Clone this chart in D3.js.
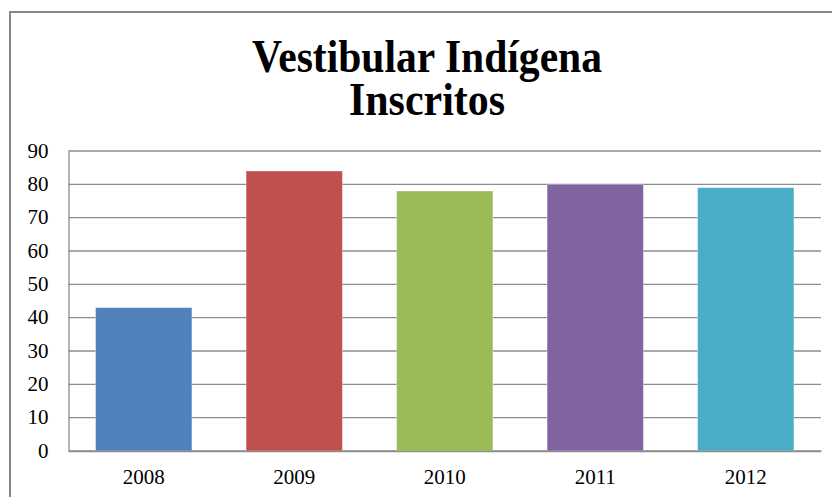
<!DOCTYPE html>
<html>
<head>
<meta charset="utf-8">
<script src="https://cdn.jsdelivr.net/npm/d3@7/dist/d3.min.js"></script>
<style>
  body { margin: 0; background: #fff; }
  svg { display: block; }
</style>
</head>
<body>
<div class="bar-chart"></div>
<script>
var years = ["2008", "2009", "2010", "2011", "2012"]
var inscritos = [43, 84, 78, 80, 79]
var colors = ["#4f81bd", "#c0504d", "#9bbb59", "#8064a2", "#4bacc6"]
var yTicks = [0, 10, 20, 30, 40, 50, 60, 70, 80, 90]
var titleLines = ["Vestibular Indígena", "Inscritos"]

var width = 832, height = 497
var plot = { left: 68.5, right: 821, top: 151, bottom: 451 }

var svg = d3.select(".bar-chart")
            .append("svg")
            .attr("width", width)
            .attr("height", height)
            .style("background-color", "#ffffff")

// chart border
svg.append("rect")
    .attr("x", 10)
    .attr("y", 12)
    .attr("width", width + 20)
    .attr("height", height + 20)
    .attr("fill", "none")
    .attr("stroke", "#868686")
    .attr("stroke-width", 2)

var xScale = d3.scaleBand().domain(years).range([plot.left, plot.right]).paddingInner(0.36).paddingOuter(0.18)
var yScale = d3.scaleLinear().domain([0, 90]).range([plot.bottom, plot.top])

// gridlines
svg.append("g")
    .selectAll("line")
    .data(yTicks)
    .enter()
    .append("line")
    .attr("x1", plot.left)
    .attr("x2", plot.right)
    .attr("y1", d => yScale(d))
    .attr("y2", d => yScale(d))
    .attr("stroke", "#8c8c8c")
    .attr("stroke-width", 1.3)

// y axis
var yAxis = d3.axisLeft(yScale).tickValues(yTicks).tickSize(0).tickPadding(20)
var gy = svg.append("g")
    .attr("transform", "translate(" + plot.left + ",0)")
    .call(yAxis)
gy.select(".domain").attr("stroke", "#8c8c8c").attr("stroke-width", 1.3)
gy.selectAll(".tick text")
    .style("font-family", "'Liberation Serif', 'Times New Roman', serif")
    .style("font-size", "21px")
    .attr("fill", "#000")
    .attr("dy", "0.3em")

// bars
svg.append("g")
    .selectAll("rect")
    .data(inscritos)
    .enter()
    .append("rect")
    .attr("x", (d, i) => xScale(years[i]))
    .attr("y", d => yScale(d))
    .attr("width", xScale.bandwidth())
    .attr("height", d => plot.bottom - yScale(d))
    .attr("fill", (d, i) => colors[i])
    .attr("stroke", "#ffffff")
    .attr("stroke-opacity", 0.35)
    .attr("stroke-width", 1)

// x axis
var xAxis = d3.axisBottom(xScale).tickSize(0).tickPadding(18)
var gx = svg.append("g")
    .attr("transform", "translate(0," + plot.bottom + ")")
    .call(xAxis)
gx.select(".domain").attr("stroke", "#8c8c8c").attr("stroke-width", 1.3)
gx.selectAll(".tick text")
    .style("font-family", "'Liberation Serif', 'Times New Roman', serif")
    .style("font-size", "21px")
    .attr("fill", "#000")

// title
var titleWidths = [350, 156]
titleLines.map((d, i) => {
  svg.append("text")
      .text(d)
      .attr("x", 427)
      .attr("y", 71.5 + i * 43.5)
      .attr("text-anchor", "middle")
      .attr("textLength", titleWidths[i])
      .attr("lengthAdjust", "spacingAndGlyphs")
      .style("font-family", "'Liberation Serif', 'Times New Roman', serif")
      .style("font-weight", "bold")
      .style("font-size", "47px")
      .style("fill", "#000")
})
</script>
</body>
</html>
